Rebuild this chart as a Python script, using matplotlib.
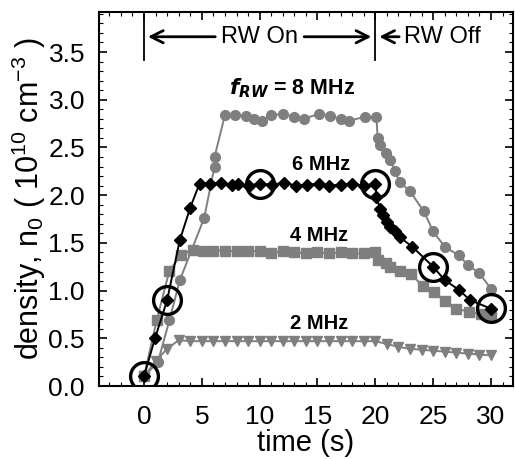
import matplotlib
matplotlib.use("Agg")
import matplotlib.pyplot as plt
from matplotlib.ticker import MultipleLocator

plt.rcParams['font.family'] = ['Liberation Sans', 'DejaVu Sans']
plt.rcParams['mathtext.fontset'] = 'custom'
plt.rcParams['mathtext.rm'] = 'Liberation Sans'
plt.rcParams['mathtext.it'] = 'Liberation Sans:italic'
plt.rcParams['mathtext.bf'] = 'Liberation Sans:bold'

# 8 MHz (gray circles)
t8 = [0, 1.2, 2.2, 3.1, 5.2, 6.1, 6.1, 7.0, 7.9, 8.8, 9.5, 10.2, 11.0, 12.0, 13.0,
      13.8, 15.1, 16.1, 17.0, 17.7, 19.1, 20.1, 20.2, 20.4, 20.9, 21.3, 21.7, 22.1,
      23.0, 24.2, 25.0, 26.0, 27.2, 28.0, 29.0, 30.0]
n8 = [0.10, 0.25, 0.69, 1.11, 1.76, 2.30, 2.40, 2.84, 2.84, 2.83, 2.80, 2.78, 2.84,
      2.85, 2.82, 2.80, 2.85, 2.83, 2.80, 2.78, 2.82, 2.82, 2.60, 2.53, 2.44, 2.37,
      2.25, 2.14, 2.04, 1.83, 1.62, 1.46, 1.37, 1.27, 1.18, 1.02]

# 6 MHz (black diamonds)
t6 = [0, 0.95, 2.0, 3.1, 4.0, 4.8, 5.7, 6.7, 7.6, 8.1, 9.1, 10.0, 11.1, 12.1, 13.1,
      14.1, 15.1, 16.0, 17.0, 18.0, 19.0, 20.0, 20.1, 20.4, 20.7, 21.0, 21.3, 21.7,
      22.1, 23.2, 25.0, 26.0, 27.2, 28.2, 30.0]
n6 = [0.10, 0.50, 0.90, 1.53, 1.87, 2.12, 2.12, 2.13, 2.11, 2.12, 2.10, 2.12, 2.11,
      2.13, 2.10, 2.11, 2.12, 2.10, 2.11, 2.12, 2.10, 2.12, 1.98, 1.86, 1.79, 1.72,
      1.67, 1.62, 1.56, 1.46, 1.25, 1.11, 1.01, 0.90, 0.81]

# 4 MHz (gray squares)
t4 = [0, 1.1, 2.2, 3.2, 4.2, 5.1, 6.0, 7.0, 8.0, 9.0, 10.0, 11.0, 12.0, 13.0, 14.0,
      15.0, 16.0, 17.0, 18.0, 19.0, 20.0, 20.2, 20.9, 21.3, 22.1, 23.1, 24.1, 25.1,
      26.0, 27.0, 28.1, 29.1, 30.0]
n4 = [0.10, 0.69, 1.21, 1.37, 1.43, 1.42, 1.42, 1.42, 1.41, 1.42, 1.41, 1.39, 1.41,
      1.40, 1.39, 1.40, 1.39, 1.40, 1.39, 1.39, 1.40, 1.32, 1.29, 1.25, 1.21, 1.17,
      1.05, 0.98, 0.89, 0.81, 0.78, 0.75, 0.73]

# 2 MHz (gray down triangles)
t2 = list(range(0, 31))
n2 = [0.10, 0.26, 0.39, 0.48, 0.47, 0.47, 0.47, 0.47, 0.47, 0.47, 0.47, 0.47, 0.47,
      0.47, 0.47, 0.47, 0.47, 0.47, 0.47, 0.47, 0.47, 0.44, 0.41, 0.39, 0.38, 0.37,
      0.36, 0.35, 0.34, 0.33, 0.32]

# highlighted points on 6 MHz curve
tc = [0, 2, 10, 20, 25, 30]
nc = [0.10, 0.90, 2.12, 2.12, 1.25, 0.82]

gray = '#7f7f7f'

fig = plt.figure(figsize=(5.15, 4.59), dpi=100)
ax = fig.add_axes([0.192, 0.159, 0.804, 0.815])

ax.plot(t2, n2, '-v', color=gray, ms=7, lw=1.4)
ax.plot(t4, n4, '-s', color=gray, ms=6.5, lw=1.4)
ax.plot(t8, n8, '-o', color=gray, ms=7, lw=1.4)
ax.plot(t6, n6, '-D', color='black', ms=6.5, lw=1.4)
ax.plot(tc, nc, 'o', ms=20, mfc='none', mec='black', mew=2.4)

ax.set_xlim(-3.9, 31.9)
ax.set_ylim(0, 3.92)
ax.xaxis.set_major_locator(MultipleLocator(5))
ax.xaxis.set_minor_locator(MultipleLocator(1))
ax.yaxis.set_major_locator(MultipleLocator(0.5))
ax.yaxis.set_minor_locator(MultipleLocator(0.1))
ax.yaxis.set_major_formatter(matplotlib.ticker.FormatStrFormatter('%.1f'))
ax.tick_params(which='both', direction='in', top=True, right=True, labelsize=19)
ax.tick_params(which='major', length=6, width=1.2)
ax.tick_params(axis='x', which='major', pad=14)
ax.tick_params(axis='y', which='major', pad=10)
ax.tick_params(which='minor', length=3, width=0.8)
for s in ax.spines.values():
    s.set_linewidth(1.5)

ax.set_xlabel('time (s)', fontsize=21, labelpad=0)
ax.set_ylabel('density, n$_0$ ( 10$^{10}$ cm$^{-3}$ )', fontsize=22, labelpad=0)

# RW on / off annotations
ax.plot([0, 0], [3.42, 3.92], color='black', lw=1.3)
ax.plot([20, 20], [3.42, 3.92], color='black', lw=1.3)
arw = dict(arrowstyle='->', color='black', lw=2, mutation_scale=22)
ax.annotate('', xy=(0.1, 3.66), xytext=(6.4, 3.66), arrowprops=arw)
ax.annotate('', xy=(19.9, 3.66), xytext=(13.6, 3.66), arrowprops=arw)
ax.annotate('', xy=(20.1, 3.66), xytext=(22.3, 3.66), arrowprops=arw)
ax.text(10.0, 3.66, 'RW On', ha='center', va='center', fontsize=17)
ax.text(25.8, 3.66, 'RW Off', ha='center', va='center', fontsize=17)

ax.text(12.8, 3.12, r'$\mathbfit{f}_{\mathbfit{RW}}$ = 8 MHz', ha='center', va='center',
        fontsize=15.5, fontweight='bold')
ax.text(15.3, 2.32, '6 MHz', ha='center', va='center', fontsize=14.5, fontweight='bold')
ax.text(15.1, 1.58, '4 MHz', ha='center', va='center', fontsize=14.5, fontweight='bold')
ax.text(15.1, 0.66, '2 MHz', ha='center', va='center', fontsize=14.5, fontweight='bold')

fig.savefig('out.png', dpi=100)
